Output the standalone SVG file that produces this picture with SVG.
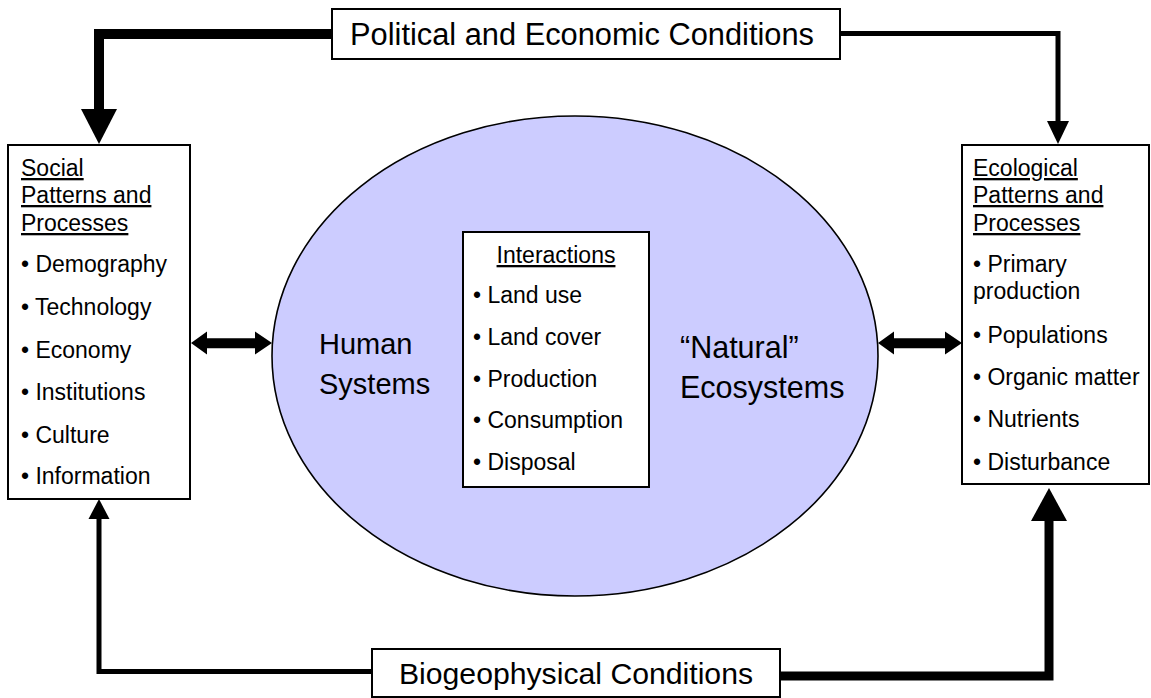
<svg xmlns="http://www.w3.org/2000/svg" width="1151" height="698" viewBox="0 0 1151 698">
<style>
  .box { fill: #ffffff; stroke: #000000; stroke-width: 2; }
  .ell { fill: #ccccff; stroke: #000000; stroke-width: 1.6; }
  text { font-family: "Liberation Sans", Arial, sans-serif; fill: #000000; }
  .t31 { font-size: 30.8px; }
  .t30 { font-size: 30.2px; }
  .t29 { font-size: 29px; }
  .tn { font-size: 30.5px; }
  .t23 { font-size: 23px; }
  .u { text-decoration: underline; }
  .wire { fill: none; stroke: #000000; stroke-linejoin: miter; stroke-linecap: butt; }
  .head { fill: #000000; stroke: none; }
</style>

<g id="connectors">
  <path class="wire" d="M332,34 H99 V110" stroke-width="10"/>
  <polygon class="head" points="81,109 117,109 99,144"/>
  <path class="wire" d="M840,33.5 H1058 V122" stroke-width="5"/>
  <polygon class="head" points="1047,121 1069,121 1058,144"/>
  <path class="wire" d="M372,671.5 H99 V518" stroke-width="5"/>
  <polygon class="head" points="88.5,519 109.5,519 99,499"/>
  <path class="wire" d="M780,676 H1049 V520" stroke-width="9"/>
  <polygon class="head" points="1031,521 1067,521 1049,488"/>
  <polygon class="head" points="191,343 207,331.5 207,338.3 255,338.3 255,331.5 272,343 255,354.5 255,348.3 207,348.3 207,354.5"/>
  <polygon class="head" points="878,343 894,331.5 894,338.3 945,338.3 945,331.5 962,343 945,354.5 945,348.3 894,348.3 894,354.5"/>
</g>

<g id="title-political">
  <rect class="box" x="332" y="9" width="508" height="50"/>
  <text class="t31" x="582" y="45" text-anchor="middle">Political and Economic Conditions</text>
</g>

<g id="title-biogeophysical">
  <rect class="box" x="372" y="649" width="408" height="48"/>
  <text class="t30" x="576" y="684" text-anchor="middle">Biogeophysical Conditions</text>
</g>

<g id="social">
  <rect class="box" x="8" y="145" width="182" height="354"/>
  <text class="t23 u" x="21" y="176">Social</text>
  <text class="t23 u" x="21" y="203">Patterns and</text>
  <text class="t23 u" x="21" y="231">Processes</text>
  <text class="t23" x="21" y="272">• Demography</text>
  <text class="t23" x="21" y="315">• Technology</text>
  <text class="t23" x="21" y="358">• Economy</text>
  <text class="t23" x="21" y="400">• Institutions</text>
  <text class="t23" x="21" y="443">• Culture</text>
  <text class="t23" x="21" y="484">• Information</text>
</g>

<g id="ecological">
  <rect class="box" x="962" y="145" width="187" height="339"/>
  <text class="t23 u" x="973" y="176">Ecological</text>
  <text class="t23 u" x="973" y="203">Patterns and</text>
  <text class="t23 u" x="973" y="231">Processes</text>
  <text class="t23" x="973" y="272">• Primary</text>
  <text class="t23" x="973" y="299">production</text>
  <text class="t23" x="973" y="343">• Populations</text>
  <text class="t23" x="973" y="385">• Organic matter</text>
  <text class="t23" x="973" y="427">• Nutrients</text>
  <text class="t23" x="973" y="470">• Disturbance</text>
</g>

<g id="systems">
  <ellipse class="ell" cx="575" cy="356" rx="303" ry="240"/>
  <text class="t29" x="319" y="354">Human</text>
  <text class="t29" x="319" y="394">Systems</text>
  <text class="tn" x="680" y="358">“Natural”</text>
  <text class="tn" x="680" y="398">Ecosystems</text>
</g>

<g id="interactions">
  <rect class="box" x="463" y="232" width="186" height="255"/>
  <text class="t23 u" x="556" y="263" text-anchor="middle">Interactions</text>
  <text class="t23" x="473" y="303">• Land use</text>
  <text class="t23" x="473" y="345">• Land cover</text>
  <text class="t23" x="473" y="387">• Production</text>
  <text class="t23" x="473" y="428">• Consumption</text>
  <text class="t23" x="473" y="470">• Disposal</text>
</g>
</svg>
